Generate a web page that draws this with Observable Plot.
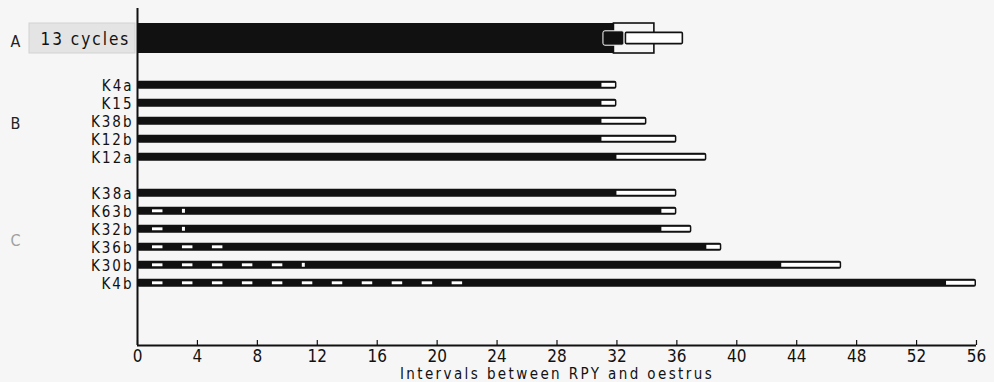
<!DOCTYPE html>
<html><head><meta charset="utf-8">
<script src="https://cdn.jsdelivr.net/npm/d3@7"></script>
<script src="https://cdn.jsdelivr.net/npm/@observablehq/plot@0.6"></script>
<style>
html,body{margin:0;padding:0;background:#f6f6f6;}
#chart svg{display:block;}
</style></head><body><div id="chart"></div>
<script>
// ---------- data ----------
const xTicks = [0, 4, 8, 12, 16, 20, 24, 28, 32, 36, 40, 44, 48, 52, 56];
const xLabel = "Intervals between RPY and oestrus";
const groupNames = ["A", "B", "C"];
const cycleLabel = "13 cycles";
const aBarEnd = 31.8;
const aBracket = [31.8, 34.5];
const aInnerBlack = [31.1, 32.5];
const aInnerWhite = [32.6, 36.4];

const rowLabels  = ["K4a", "K15", "K38b", "K12b", "K12a", "K38a", "K63b", "K32b", "K36b", "K30b", "K4b"];
const rowGroups  = ["B", "B", "B", "B", "B", "C", "C", "C", "C", "C", "C"];
const barEnds    = [32, 32, 34, 36, 38, 36, 36, 37, 39, 47, 56];
const whiteStarts= [31, 31, 31, 31, 32, 32, 35, 35, 38, 43, 54];
const dashStarts = [[], [], [], [], [], [], [1], [1], [1, 3, 5], [1, 3, 5, 7, 9], [1, 3, 5, 7, 9, 11, 13, 15, 17, 19, 21]];
const dotMarks   = [[], [], [], [], [], [], [3], [3], [], [11], []];

// ---------- layout ----------
const W = 994, H = 382;
const mTop = 8, mBottom = 37, mLeft = 137, mRight = 18;
const innerH = H - mTop - mBottom;
const groupStart = {B: 2.6, C: 8.6};
const BG = "#f6f6f6", INK = "#111";
const FONT = "'DejaVu Sans Condensed', 'Liberation Sans Narrow', 'DejaVu Sans', sans-serif";

const counters = {B: 0, C: 0};
const rows = rowLabels.map((label, i) => {
  const g = rowGroups[i];
  const pos = groupStart[g] + counters[g]++;
  return {label, group: g, pos, end: barEnds[i], wstart: whiteStarts[i]};
});
const dashes = rows.flatMap((r, i) => dashStarts[i].map(s => ({pos: r.pos, x1: s, x2: s + 0.7})));
const dots = rows.flatMap((r, i) => dotMarks[i].map(s => ({pos: r.pos, x1: s, x2: s + 0.2})));
const groups = groupNames.map(g => {
  const ps = g === "A" ? [0] : rows.filter(r => r.group === g).map(r => r.pos);
  return {name: g, pos: d3.mean(ps)};
});
const hB = 0.22, hA = 0.833;

const chart = Plot.plot({
  width: W, height: H,
  marginTop: mTop, marginBottom: mBottom, marginLeft: mLeft, marginRight: mRight,
  style: {fontFamily: FONT, fontSize: "16px", background: BG, color: INK},
  x: {domain: [0, 56], axis: null},
  y: {domain: [17.056, -1.667], axis: null},
  marks: [
    // row A
    Plot.rect([cycleLabel], {x1: d => 0, x2: d => 0, y1: d => -hA, y2: d => hA, insetLeft: -108, insetRight: 2, fill: "#e4e4e4", stroke: "#d2d2d2", strokeWidth: 1}),
    Plot.text([cycleLabel], {y: d => 0, frameAnchor: "left", text: d => d, dx: -97, dy: 1, textAnchor: "start", fontSize: 17, fill: INK}),
    Plot.rect([aBarEnd], {x1: d => 0, x2: d => d, y1: d => -hA, y2: d => hA, fill: INK}),
    Plot.rect([aBracket], {x1: d => d[0], x2: d => d[1], y1: d => -hA, y2: d => hA, fill: BG, stroke: INK, strokeWidth: 1.6}),
    Plot.rect([aInnerBlack], {x1: d => d[0], x2: d => d[1], y1: d => -0.4, y2: d => 0.4, fill: INK, stroke: "#fff", strokeWidth: 1, rx: 2}),
    Plot.rect([aInnerWhite], {x1: d => d[0], x2: d => d[1], y1: d => -0.31, y2: d => 0.31, fill: "#fff", stroke: INK, strokeWidth: 1.6, rx: 1}),
    // rows B, C
    Plot.rect(rows, {x1: d => 0, x2: "end", y1: d => d.pos - hB, y2: d => d.pos + hB, fill: INK, rx: 2}),
    Plot.rect(rows, {x1: "wstart", x2: "end", y1: d => d.pos - hB, y2: d => d.pos + hB, insetTop: 2, insetBottom: 2, insetRight: 1.5, fill: "#fff"}),
    Plot.rect(dashes, {x1: "x1", x2: "x2", y1: d => d.pos - hB, y2: d => d.pos + hB, insetTop: 2.5, insetBottom: 2.5, fill: "#fff"}),
    Plot.rect(dots, {x1: "x1", x2: "x2", y1: d => d.pos - hB, y2: d => d.pos + hB, insetTop: 2, insetBottom: 2, fill: "#fff"}),
    Plot.text(rows, {x: d => 0, y: "pos", text: "label", textAnchor: "end", dx: -4, dy: 1, fontSize: 15, fill: INK}),
    // group labels
    Plot.text(groups, {frameAnchor: "left", y: "pos", text: "name", dx: -127, dy: 3, textAnchor: "start", fontSize: 16, fill: d => d.name === "C" ? "#a0a0a0" : "#222"}),
    // axes
    Plot.ruleX([0], {stroke: INK, strokeWidth: 2}),
    Plot.ruleY([17.056], {stroke: INK, strokeWidth: 2}),
    Plot.tickX(xTicks, {x: d => d, insetTop: innerH - 5, stroke: INK, strokeWidth: 1.2}),
    Plot.axisX(xTicks, {anchor: "bottom", tickSize: 0, tickPadding: 4, fontSize: 17, label: null}),
    Plot.text([xLabel], {frameAnchor: "bottom", lineAnchor: "middle", text: d => d, dy: 29, fontSize: 15, fill: INK})
  ]
});
// letter spacing to mimic the original's spaced lettering
const sel = d3.select(chart).selectAll("text");
sel.filter(function() { return this.textContent === xLabel; }).attr("letter-spacing", "2.4px");
sel.filter(function() { return this.textContent === cycleLabel; }).attr("letter-spacing", "2px");
sel.filter(function() { return rowLabels.includes(this.textContent); }).attr("letter-spacing", "2px");
document.getElementById("chart").appendChild(chart);
</script>
</body></html>
